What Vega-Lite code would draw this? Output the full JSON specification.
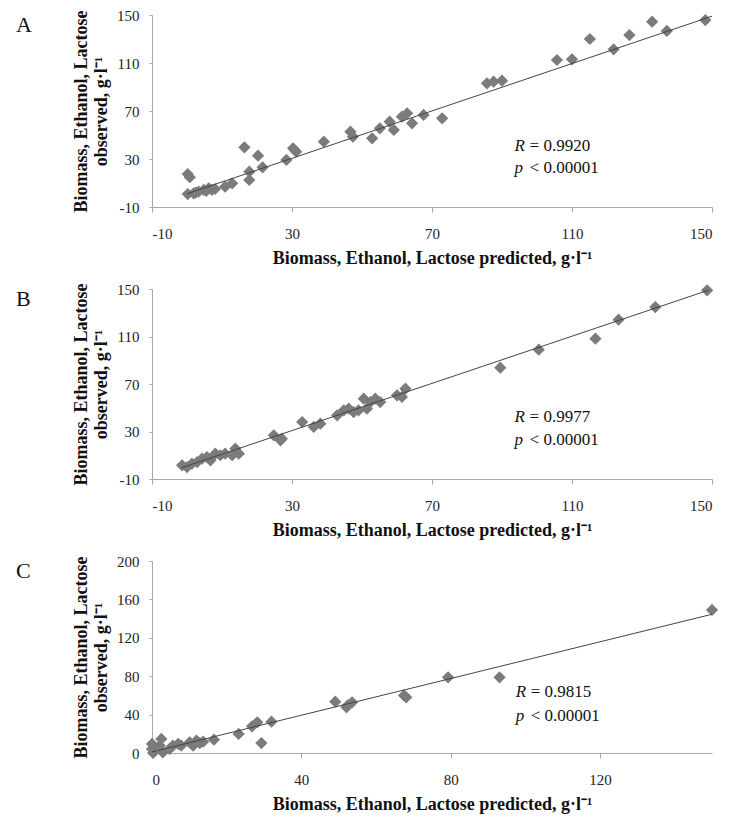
{
  "$schema": "https://vega.github.io/schema/vega-lite/v6.json",
  "background": "white",
  "padding": {"left": 16, "top": 8, "right": 5, "bottom": 5},
  "spacing": 15,
  "config": {
    "font": "Liberation Serif",
    "view": {"stroke": null},
    "text": {"font": "Liberation Serif"},
    "axis": {
      "labelFont": "Liberation Serif", "labelFontSize": 15, "labelColor": "#222",
      "titleFont": "Liberation Serif", "titleFontSize": 18, "titleFontWeight": "bold", "titleColor": "#111",
      "domainColor": "#a8a8a8", "tickColor": "#a8a8a8", "grid": false
    },
    "axisX": {"tickSize": 5, "labelPadding": 14, "titlePadding": 8},
    "axisY": {"tickSize": 3, "labelPadding": 10, "titlePadding": 6, "titleLineHeight": 20},
    "title": {"font": "Liberation Serif", "fontSize": 22, "fontWeight": "normal", "anchor": "start", "frame": "group", "color": "#111"}
  },
  "datasets": {
    "ptsA": [
      {"pred": 0.2, "obs": 17.5}, {"pred": 0.8, "obs": 14.8}, {"pred": 0.2, "obs": 0.8}, {"pred": 1.9, "obs": 1.4},
      {"pred": 2.5, "obs": 2.0}, {"pred": 3.3, "obs": 2.8}, {"pred": 4.8, "obs": 4.2}, {"pred": 5.5, "obs": 3.5},
      {"pred": 6.2, "obs": 5.6}, {"pred": 7.1, "obs": 4.2}, {"pred": 8.0, "obs": 5.0}, {"pred": 10.9, "obs": 6.9},
      {"pred": 12.9, "obs": 9.7}, {"pred": 16.4, "obs": 39.7}, {"pred": 17.8, "obs": 19.4}, {"pred": 17.8, "obs": 12.5},
      {"pred": 20.3, "obs": 32.8}, {"pred": 21.6, "obs": 23.1}, {"pred": 28.4, "obs": 29.2}, {"pred": 30.3, "obs": 38.9},
      {"pred": 31.2, "obs": 36.1}, {"pred": 39.1, "obs": 44.4}, {"pred": 46.7, "obs": 52.8}, {"pred": 47.4, "obs": 48.6},
      {"pred": 52.9, "obs": 47.2}, {"pred": 55.1, "obs": 55.6}, {"pred": 57.9, "obs": 61.1}, {"pred": 59.1, "obs": 54.2},
      {"pred": 61.4, "obs": 65.3}, {"pred": 62.9, "obs": 68.1}, {"pred": 64.3, "obs": 59.7}, {"pred": 67.6, "obs": 66.7},
      {"pred": 72.9, "obs": 63.9}, {"pred": 85.7, "obs": 93.1}, {"pred": 87.6, "obs": 94.4}, {"pred": 90.0, "obs": 95.3},
      {"pred": 105.7, "obs": 112.5}, {"pred": 110.0, "obs": 113.1}, {"pred": 115.1, "obs": 130.0}, {"pred": 121.9, "obs": 121.4},
      {"pred": 126.4, "obs": 133.3}, {"pred": 132.9, "obs": 144.4}, {"pred": 137.1, "obs": 136.7}, {"pred": 148.1, "obs": 145.8}
    ],
    "lineA": [{"pred": 0, "obs": 1}, {"pred": 150, "obs": 149}],
    "annA": [
      {"pred": 93.6, "obs": 40.8, "sym": "R", "rest": "= 0.9920"},
      {"pred": 93.6, "obs": 22.2, "sym": "p", "rest": "< 0.00001"}
    ],
    "ptsB": [
      {"pred": -1.4, "obs": 1.5}, {"pred": 0.0, "obs": 0.1}, {"pred": 1.4, "obs": 2.9}, {"pred": 2.9, "obs": 4.3},
      {"pred": 4.3, "obs": 7.1}, {"pred": 5.7, "obs": 8.5}, {"pred": 6.7, "obs": 5.7}, {"pred": 8.1, "obs": 11.3},
      {"pred": 9.5, "obs": 10.0}, {"pred": 10.9, "obs": 11.3}, {"pred": 12.9, "obs": 10.0}, {"pred": 13.8, "obs": 15.5},
      {"pred": 14.8, "obs": 11.3}, {"pred": 24.8, "obs": 26.8}, {"pred": 26.7, "obs": 22.6}, {"pred": 27.1, "obs": 23.9},
      {"pred": 32.9, "obs": 38.0}, {"pred": 36.2, "obs": 33.8}, {"pred": 38.1, "obs": 36.6}, {"pred": 42.9, "obs": 43.6},
      {"pred": 44.8, "obs": 47.8}, {"pred": 46.2, "obs": 49.2}, {"pred": 47.6, "obs": 46.4}, {"pred": 49.0, "obs": 47.8},
      {"pred": 50.5, "obs": 57.6}, {"pred": 51.4, "obs": 49.2}, {"pred": 52.4, "obs": 54.8}, {"pred": 53.8, "obs": 57.6},
      {"pred": 55.2, "obs": 54.8}, {"pred": 60.0, "obs": 60.5}, {"pred": 61.4, "obs": 59.1}, {"pred": 62.4, "obs": 66.1},
      {"pred": 89.5, "obs": 83.7}, {"pred": 100.5, "obs": 98.9}, {"pred": 116.7, "obs": 108.2}, {"pred": 123.3, "obs": 124.2},
      {"pred": 133.8, "obs": 134.8}, {"pred": 148.6, "obs": 148.9}
    ],
    "lineB": [{"pred": -1.5, "obs": -0.5}, {"pred": 149, "obs": 149}],
    "annB": [
      {"pred": 93.6, "obs": 42.2, "sym": "R", "rest": "= 0.9977"},
      {"pred": 93.6, "obs": 22.6, "sym": "p", "rest": "< 0.00001"}
    ],
    "ptsC": [
      {"pred": 0.0, "obs": 9.4}, {"pred": 0.0, "obs": 4.2}, {"pred": 0.3, "obs": 0.0}, {"pred": 2.5, "obs": 14.6},
      {"pred": 2.1, "obs": 7.6}, {"pred": 2.9, "obs": 0.7}, {"pred": 4.7, "obs": 4.2}, {"pred": 5.6, "obs": 7.6},
      {"pred": 7.0, "obs": 9.4}, {"pred": 7.8, "obs": 7.6}, {"pred": 10.1, "obs": 11.1}, {"pred": 11.0, "obs": 7.6},
      {"pred": 11.9, "obs": 12.8}, {"pred": 12.8, "obs": 10.4}, {"pred": 13.7, "obs": 11.8}, {"pred": 16.6, "obs": 13.9},
      {"pred": 23.2, "obs": 19.8}, {"pred": 26.8, "obs": 27.8}, {"pred": 28.2, "obs": 32.0}, {"pred": 29.3, "obs": 10.4},
      {"pred": 32.0, "obs": 32.6}, {"pred": 49.1, "obs": 53.5}, {"pred": 52.1, "obs": 47.6}, {"pred": 52.5, "obs": 50.0},
      {"pred": 53.6, "obs": 52.8}, {"pred": 67.5, "obs": 60.0}, {"pred": 68.1, "obs": 58.0}, {"pred": 79.3, "obs": 78.8},
      {"pred": 93.1, "obs": 78.8}, {"pred": 150.0, "obs": 149.0}
    ],
    "lineC": [{"pred": 0, "obs": 1.1}, {"pred": 150, "obs": 144.5}],
    "annC": [
      {"pred": 97.4, "obs": 63.9, "sym": "R", "rest": "= 0.9815"},
      {"pred": 97.4, "obs": 38.9, "sym": "p", "rest": "< 0.00001"}
    ]
  },
  "vconcat": [
    {
      "width": 560, "height": 192,
      "title": {"text": "A", "offset": -29, "dx": -136},
      "encoding": {
        "x": {"field": "pred", "type": "quantitative", "scale": {"domain": [-10, 150], "nice": false, "zero": false},
              "axis": {"values": [-10, 30, 70, 110, 150], "labelExpr": "'' + datum.value", "title": "Biomass, Ethanol, Lactose predicted, g·l⁻¹"}},
        "y": {"field": "obs", "type": "quantitative", "scale": {"domain": [-10, 150], "nice": false, "zero": false},
              "axis": {"values": [-10, 30, 70, 110, 150], "labelExpr": "'' + datum.value", "title": ["Biomass, Ethanol, Lactose", "observed, g·l⁻¹"]}}
      },
      "layer": [
        {"data": {"name": "ptsA"}, "mark": {"type": "point", "shape": "diamond", "filled": true, "size": 150, "color": "#7b7b7b", "opacity": 1}},
        {"data": {"name": "lineA"}, "mark": {"type": "line", "color": "#444", "strokeWidth": 1}},
        {"data": {"name": "annA"}, "mark": {"type": "text", "font": "Liberation Serif", "align": "left", "baseline": "middle", "fontSize": 17, "fontStyle": "italic", "color": "#111"}, "encoding": {"text": {"field": "sym"}}},
        {"data": {"name": "annA"}, "mark": {"type": "text", "font": "Liberation Serif", "align": "left", "baseline": "middle", "fontSize": 17, "dx": 15, "color": "#111"}, "encoding": {"text": {"field": "rest"}}}
      ]
    },
    {
      "width": 560, "height": 190,
      "title": {"text": "B", "offset": -29, "dx": -136},
      "encoding": {
        "x": {"field": "pred", "type": "quantitative", "scale": {"domain": [-10, 150], "nice": false, "zero": false},
              "axis": {"values": [-10, 30, 70, 110, 150], "labelExpr": "'' + datum.value", "title": "Biomass, Ethanol, Lactose predicted, g·l⁻¹"}},
        "y": {"field": "obs", "type": "quantitative", "scale": {"domain": [-10, 150], "nice": false, "zero": false},
              "axis": {"values": [-10, 30, 70, 110, 150], "labelExpr": "'' + datum.value", "title": ["Biomass, Ethanol, Lactose", "observed, g·l⁻¹"]}}
      },
      "layer": [
        {"data": {"name": "ptsB"}, "mark": {"type": "point", "shape": "diamond", "filled": true, "size": 150, "color": "#7b7b7b", "opacity": 1}},
        {"data": {"name": "lineB"}, "mark": {"type": "line", "color": "#444", "strokeWidth": 1}},
        {"data": {"name": "annB"}, "mark": {"type": "text", "font": "Liberation Serif", "align": "left", "baseline": "middle", "fontSize": 17, "fontStyle": "italic", "color": "#111"}, "encoding": {"text": {"field": "sym"}}},
        {"data": {"name": "annB"}, "mark": {"type": "text", "font": "Liberation Serif", "align": "left", "baseline": "middle", "fontSize": 17, "dx": 15, "color": "#111"}, "encoding": {"text": {"field": "rest"}}}
      ]
    },
    {
      "width": 560, "height": 192,
      "title": {"text": "C", "offset": -29, "dx": -136},
      "encoding": {
        "x": {"field": "pred", "type": "quantitative", "scale": {"domain": [0, 150], "nice": false, "zero": false},
              "axis": {"values": [0, 40, 80, 120], "labelExpr": "'' + datum.value", "title": "Biomass, Ethanol, Lactose predicted, g·l⁻¹"}},
        "y": {"field": "obs", "type": "quantitative", "scale": {"domain": [0, 200], "nice": false, "zero": false},
              "axis": {"values": [0, 40, 80, 120, 160, 200], "labelExpr": "'' + datum.value", "title": ["Biomass, Ethanol, Lactose", "observed, g·l⁻¹"]}}
      },
      "layer": [
        {"data": {"name": "ptsC"}, "mark": {"type": "point", "shape": "diamond", "filled": true, "size": 150, "color": "#7b7b7b", "opacity": 1}},
        {"data": {"name": "lineC"}, "mark": {"type": "line", "color": "#444", "strokeWidth": 1}},
        {"data": {"name": "annC"}, "mark": {"type": "text", "font": "Liberation Serif", "align": "left", "baseline": "middle", "fontSize": 17, "fontStyle": "italic", "color": "#111"}, "encoding": {"text": {"field": "sym"}}},
        {"data": {"name": "annC"}, "mark": {"type": "text", "font": "Liberation Serif", "align": "left", "baseline": "middle", "fontSize": 17, "dx": 15, "color": "#111"}, "encoding": {"text": {"field": "rest"}}}
      ]
    }
  ]
}
